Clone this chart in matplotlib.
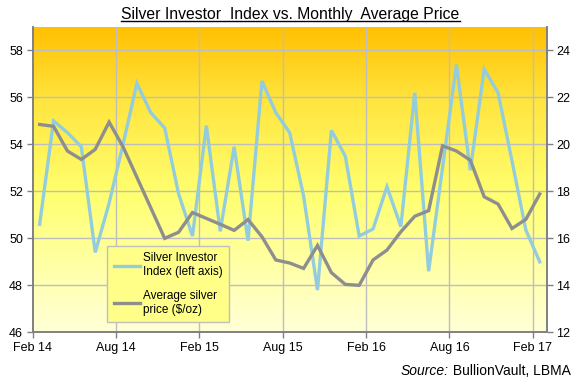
import matplotlib.pyplot as plt
import numpy as np
from matplotlib.colors import LinearSegmentedColormap
from matplotlib.lines import Line2D

plt.rcParams['font.family'] = ['Liberation Sans', 'DejaVu Sans']

# Monthly data, Feb 2014 .. Feb 2017
tick_labels = ["Feb 14", "Aug 14", "Feb 15", "Aug 15", "Feb 16", "Aug 16", "Feb 17"]

investor_index = [50.6, 55.0, 54.5, 53.9, 49.4, 51.5, 54.0, 56.6, 55.35, 54.7,
                  51.9, 50.1, 54.8, 50.3, 53.9, 49.9, 56.7, 55.35, 54.5, 51.8,
                  47.8, 54.6, 53.5, 50.1, 50.4, 52.2, 50.5, 56.2, 48.6, 53.0,
                  57.4, 52.9, 57.2, 56.2, 53.3, 50.35, 49.0]

silver_price = [20.85, 20.77, 19.72, 19.36, 19.79, 20.95, 19.9, 18.6, 17.3, 16.0,
                16.26, 17.1, 16.85, 16.6, 16.34, 16.8, 16.07, 15.08, 14.95, 14.72,
                15.7, 14.54, 14.04, 14.0, 15.08, 15.5, 16.28, 16.94, 17.18, 19.94,
                19.72, 19.33, 17.77, 17.46, 16.42, 16.81, 17.89]

x = np.arange(len(investor_index)) + 0.5

fig = plt.figure(figsize=(5.75, 3.79), dpi=100)
ax = fig.add_axes([0.0569, 0.1232, 0.8939, 0.8056])
ax2 = ax.twinx()

# gradient background (orange at top -> pale yellow at bottom)
cmap = LinearSegmentedColormap.from_list(
    "bg", [(0.0, "#FFFFD8"), (0.45, "#FFFF70"), (0.75, "#FFE640"), (1.0, "#FFC000")])
grad = np.linspace(0, 1, 256).reshape(-1, 1)
ax.imshow(grad, cmap=cmap, aspect="auto", extent=(0, 37, 46, 59),
          origin="lower", zorder=0)

grid_c = "#BEBEBE"
ax.set_xlim(0, 37)
ax.set_ylim(46, 59)
ax2.set_ylim(12, 25)
ax.set_xticks(np.arange(0, 37, 6))
ax.set_xticklabels(tick_labels)
ax.set_yticks(np.arange(46, 59, 2))
ax2.set_yticks(np.arange(12, 25, 2))
for v in np.arange(48, 59, 2):
    ax.axhline(v, color=grid_c, lw=1, zorder=1)
for v in np.arange(6, 37, 6):
    ax.axvline(v, color=grid_c, lw=1, zorder=1)

l1, = ax.plot(x, investor_index, color="#93CDDD", lw=2.4, zorder=3,
              solid_joinstyle="miter")
l2, = ax2.plot(x, silver_price, color="#8E8E8E", lw=2.4, zorder=3,
               solid_joinstyle="miter")

for a in (ax, ax2):
    a.spines["top"].set_visible(False)
    for s in ("left", "right", "bottom"):
        a.spines[s].set_color("#808080")
        a.spines[s].set_linewidth(1.2)
    a.tick_params(labelsize=9, colors="#000000", length=4, width=1,
                  color="#808080", pad=3)
ax2.patch.set_visible(False)

leg = ax2.legend([l1, l2], ["Silver Investor\nIndex (left axis)", "Average silver\nprice ($/oz)"],
                 loc="lower left", bbox_to_anchor=(0.1866, 0.1500, 0.2122, 0.1780),
                 bbox_transform=fig.transFigure, mode="expand", borderaxespad=0,
                 fontsize=8.5, frameon=True, fancybox=False, handlelength=2.2,
                 handletextpad=0.3, labelspacing=1.0, borderpad=0.55)
leg.get_frame().set_facecolor("#FFFF88")
leg.get_frame().set_edgecolor("#BFBFBF")
leg.get_frame().set_alpha(1)
leg.get_frame().set_linewidth(1)

title = fig.text(0.505, 0.963, "Silver Investor  Index vs. Monthly  Average Price",
                 ha="center", va="center", fontsize=11.3)
src = fig.text(0.992, 0.022, " BullionVault, LBMA", ha="right", va="center", fontsize=10)

fig.canvas.draw()
sb = src.get_window_extent().transformed(fig.transFigure.inverted())
fig.text(sb.x0, 0.022, "Source:", ha="right", va="center", fontsize=10, style="italic")

# underline the title
bb = title.get_window_extent().transformed(fig.transFigure.inverted())
fig.add_artist(Line2D([bb.x0, bb.x1], [bb.y0 + 0.002, bb.y0 + 0.002],
                      color="black", lw=1, transform=fig.transFigure))

fig.savefig("out.png", dpi=100)
